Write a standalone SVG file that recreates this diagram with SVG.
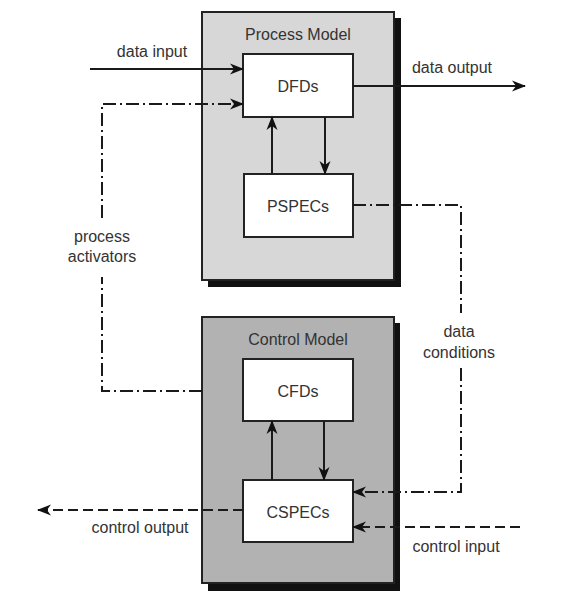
<svg xmlns="http://www.w3.org/2000/svg" width="575" height="615" viewBox="0 0 575 615">
<defs>
<marker id="ah" markerUnits="userSpaceOnUse" markerWidth="14" markerHeight="12" refX="13" refY="5.5" orient="auto" viewBox="0 0 14 11">
<path d="M0,0 L14,5.5 L0,11 L4,5.5 z" fill="#111"/>
</marker>
<style>
text{font-family:"Liberation Sans",Arial,sans-serif;font-size:16px;fill:#333;text-anchor:middle}
.shadow{fill:#111}
.model{stroke:#222;stroke-width:2}
.node{fill:#fff;stroke:#222;stroke-width:2}
.c{fill:none;stroke:#1a1a1a;stroke-width:2}
.dd{stroke-dasharray:13 4 2 4}
.da{stroke-dasharray:10 5}
</style>
</defs>
<rect width="575" height="615" fill="#fff"/>
<g id="process-model">
<rect class="shadow" x="208" y="18" width="193" height="269"/>
<rect class="model" x="202" y="12" width="192" height="268" fill="#d7d7d7"/>
<text x="298" y="40">Process Model</text>
</g>
<g id="control-model">
<rect class="shadow" x="208" y="323" width="192" height="268"/>
<rect class="model" x="202" y="317" width="192" height="266" fill="#b2b2b2"/>
<text x="298" y="345">Control Model</text>
</g>
<g id="dfds">
<rect class="node" x="243" y="54" width="110" height="63"/>
<text x="298" y="92">DFDs</text>
</g>
<g id="pspecs">
<rect class="node" x="244" y="174" width="109" height="63"/>
<text x="298" y="212">PSPECs</text>
</g>
<g id="cfds">
<rect class="node" x="243" y="359" width="110" height="62"/>
<text x="298" y="397">CFDs</text>
</g>
<g id="cspecs">
<rect class="node" x="243" y="480" width="110" height="62"/>
<text x="298" y="518">CSPECs</text>
</g>
<g id="connectors">
<line class="c" x1="90" y1="69" x2="243" y2="69" marker-end="url(#ah)"/>
<line class="c" x1="353" y1="86" x2="525" y2="86" marker-end="url(#ah)"/>
<line class="c" x1="272" y1="174" x2="272" y2="117" marker-end="url(#ah)"/>
<line class="c" x1="325" y1="117" x2="325" y2="174" marker-end="url(#ah)"/>
<line class="c" x1="272" y1="480" x2="272" y2="421" marker-end="url(#ah)"/>
<line class="c" x1="324" y1="421" x2="324" y2="480" marker-end="url(#ah)"/>
<polyline class="c dd" points="102,218 102,104 243,104" marker-end="url(#ah)"/>
<polyline class="c dd" points="202,391 102,391 102,277"/>
<polyline class="c dd" points="353,205 461,205 461,313"/>
<polyline class="c dd" points="461,368 461,492 353,492" marker-end="url(#ah)"/>
<line class="c da" x1="243" y1="510" x2="38" y2="510" marker-end="url(#ah)"/>
<line class="c da" x1="520" y1="527" x2="353" y2="527" marker-end="url(#ah)"/>
</g>
<g id="labels">
<text x="152" y="57">data input</text>
<text x="452" y="73">data output</text>
<text x="102" y="242">process</text>
<text x="102" y="262">activators</text>
<text x="459" y="337">data</text>
<text x="459" y="358">conditions</text>
<text x="140" y="533">control output</text>
<text x="456" y="552">control input</text>
</g>
</svg>
